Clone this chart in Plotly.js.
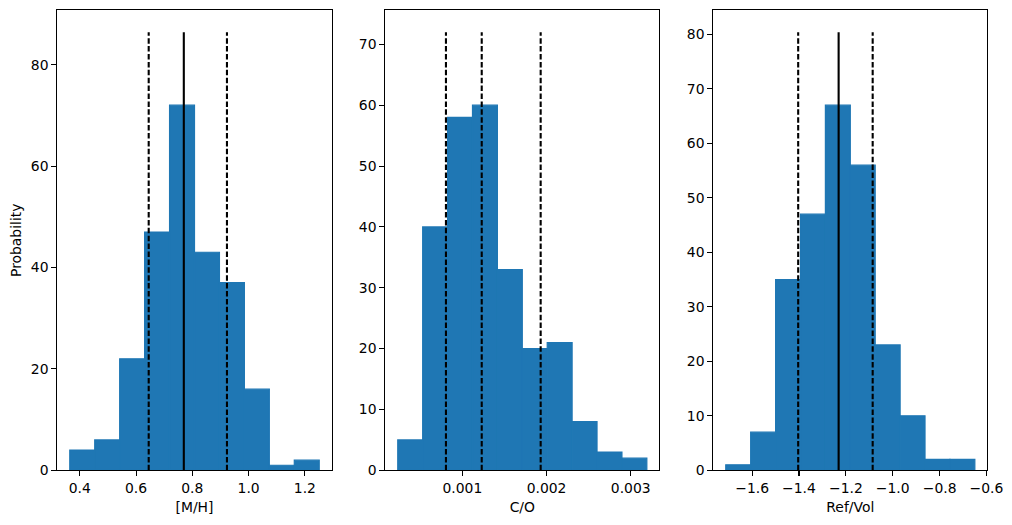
<!DOCTYPE html>
<html>
<head>
<meta charset="utf-8">
<script src="https://cdn.plot.ly/plotly-3.0.1.min.js"></script>
<style>
  html, body { margin: 0; padding: 0; background: #ffffff; }
  #chart { width: 1012px; height: 525px; }
</style>
</head>
<body>
<div id="chart"></div>
<script>
// Posterior histograms: bin edges and counts for each retrieved parameter
const mhEdges = [0.3643, 0.4530, 0.5417, 0.6303, 0.7190, 0.8077, 0.8964, 0.9851, 1.0737, 1.1624, 1.2511];
const mhCounts = [4, 6, 22, 47, 72, 43, 37, 16, 1, 2];

const coEdges = [0.0002326, 0.0005284, 0.0008243, 0.0011201, 0.0014160, 0.0017118, 0.0020076, 0.0023035, 0.0025993, 0.0028952, 0.0031910];
const coCounts = [5, 40, 58, 60, 33, 20, 21, 8, 3, 2];

const rvEdges = [-1.7124, -1.6061, -1.4998, -1.3936, -1.2873, -1.1810, -1.0747, -0.9684, -0.8622, -0.7559, -0.6496];
const rvCounts = [1, 7, 35, 47, 67, 56, 23, 10, 2, 2];

// Percentile markers (16th, 50th, 84th) and their line styles
const mhMarks = [0.6449, 0.7697, 0.9231];
const mhMarkDash = ['dash', 'solid', 'dash'];
const coMarks = [0.000805, 0.00123, 0.00193];
const coMarkDash = ['dash', 'dash', 'dash'];
const rvMarks = [-1.4034, -1.2308, -1.0855];
const rvMarkDash = ['dash', 'solid', 'dash'];

// Axis labels and ticks
const xLabels = ['[M/H]', 'C/O', 'Ref/Vol'];
const yLabel = 'Probability';
const mhTicks = [0.4, 0.6, 0.8, 1.0, 1.2];
const mhTickText = ['0.4', '0.6', '0.8', '1.0', '1.2'];
const coTicks = [0.001, 0.002, 0.003];
const coTickText = ['0.001', '0.002', '0.003'];
const rvTicks = [-1.6, -1.4, -1.2, -1.0, -0.8, -0.6];
const rvTickText = ['\u22121.6', '\u22121.4', '\u22121.2', '\u22121.0', '\u22120.8', '\u22120.6'];
const mhYTicks = [0, 20, 40, 60, 80];
const coYTicks = [0, 10, 20, 30, 40, 50, 60, 70];
const rvYTicks = [0, 10, 20, 30, 40, 50, 60, 70, 80];

const W = 1012, H = 525;
const FONT = 'DejaVu Sans, Liberation Sans, sans-serif';
const BLUE = '#1f77b4';

const panels = [
  {edges: mhEdges, counts: mhCounts, marks: mhMarks, dash: mhMarkDash, ticks: mhTicks, text: mhTickText, yticks: mhYTicks, px: [57.3, 331.7]},
  {edges: coEdges, counts: coCounts, marks: coMarks, dash: coMarkDash, ticks: coTicks, text: coTickText, yticks: coYTicks, px: [385.3, 659.3]},
  {edges: rvEdges, counts: rvCounts, marks: rvMarks, dash: rvMarkDash, ticks: rvTicks, text: rvTickText, yticks: rvYTicks, px: [713.3, 987.3]}
];

const traces = [];
const layout = {
  width: W, height: H,
  margin: {l: 0, r: 0, t: 0, b: 0},
  paper_bgcolor: '#ffffff',
  plot_bgcolor: '#ffffff',
  showlegend: false,
  font: {family: FONT, size: 14, color: '#000000'}
};

const yDomain = [1 - 470.3 / H, 1 - 10.3 / H];

panels.forEach((p, i) => {
  const n = i === 0 ? '' : String(i + 1);
  const xa = 'x' + n, ya = 'y' + n;

  const centers = [], widths = [];
  for (let k = 0; k < p.counts.length; k++) {
    centers.push((p.edges[k] + p.edges[k + 1]) / 2);
    widths.push(p.edges[k + 1] - p.edges[k]);
  }
  // an outline in the fill colour closes the seams between adjacent bins
  traces.push({
    type: 'bar', x: centers, y: p.counts, width: widths,
    marker: {color: BLUE, line: {width: 1.2, color: BLUE}},
    xaxis: xa, yaxis: ya, hoverinfo: 'x+y'
  });

  const top = 1.2 * Math.max(...p.counts);
  p.marks.forEach((m, j) => {
    traces.push({
      type: 'scatter', mode: 'lines', x: [m, m], y: [0, top],
      line: {color: '#000000', width: 2.1, dash: p.dash[j] === 'dash' ? '5.5px,2.4px' : 'solid'},
      xaxis: xa, yaxis: ya, hoverinfo: 'x'
    });
  });

  const lo = p.edges[0], hi = p.edges[p.edges.length - 1];
  const pad = 0.05 * (hi - lo);
  const axisStyle = {
    showline: true, mirror: true, linecolor: '#000000', linewidth: 1.1,
    showgrid: false, zeroline: false,
    ticks: 'outside', ticklen: 4.9, tickwidth: 1.1, tickcolor: '#000000',
    tickfont: {family: FONT, size: 13.9, color: '#000000'}
  };

  layout['xaxis' + n] = Object.assign({}, axisStyle, {
    domain: [p.px[0] / W, p.px[1] / W],
    anchor: ya,
    range: [lo - pad, hi + pad],
    tickmode: 'array', tickvals: p.ticks, ticktext: p.text,
    title: {text: xLabels[i], font: {family: FONT, size: 13.9, color: '#000000'}, standoff: 7}
  });
  const yAxis = Object.assign({}, axisStyle, {
    domain: yDomain,
    anchor: xa,
    range: [0, 1.05 * top],
    tickmode: 'array', tickvals: p.yticks, ticktext: p.yticks.map(String)
  });
  if (i === 0) {
    yAxis.title = {text: yLabel, font: {family: FONT, size: 13.9, color: '#000000'}, standoff: 6};
  }
  layout['yaxis' + n] = yAxis;
});

Plotly.newPlot('chart', traces, layout, {staticPlot: true, displayModeBar: false});
</script>
</body>
</html>
